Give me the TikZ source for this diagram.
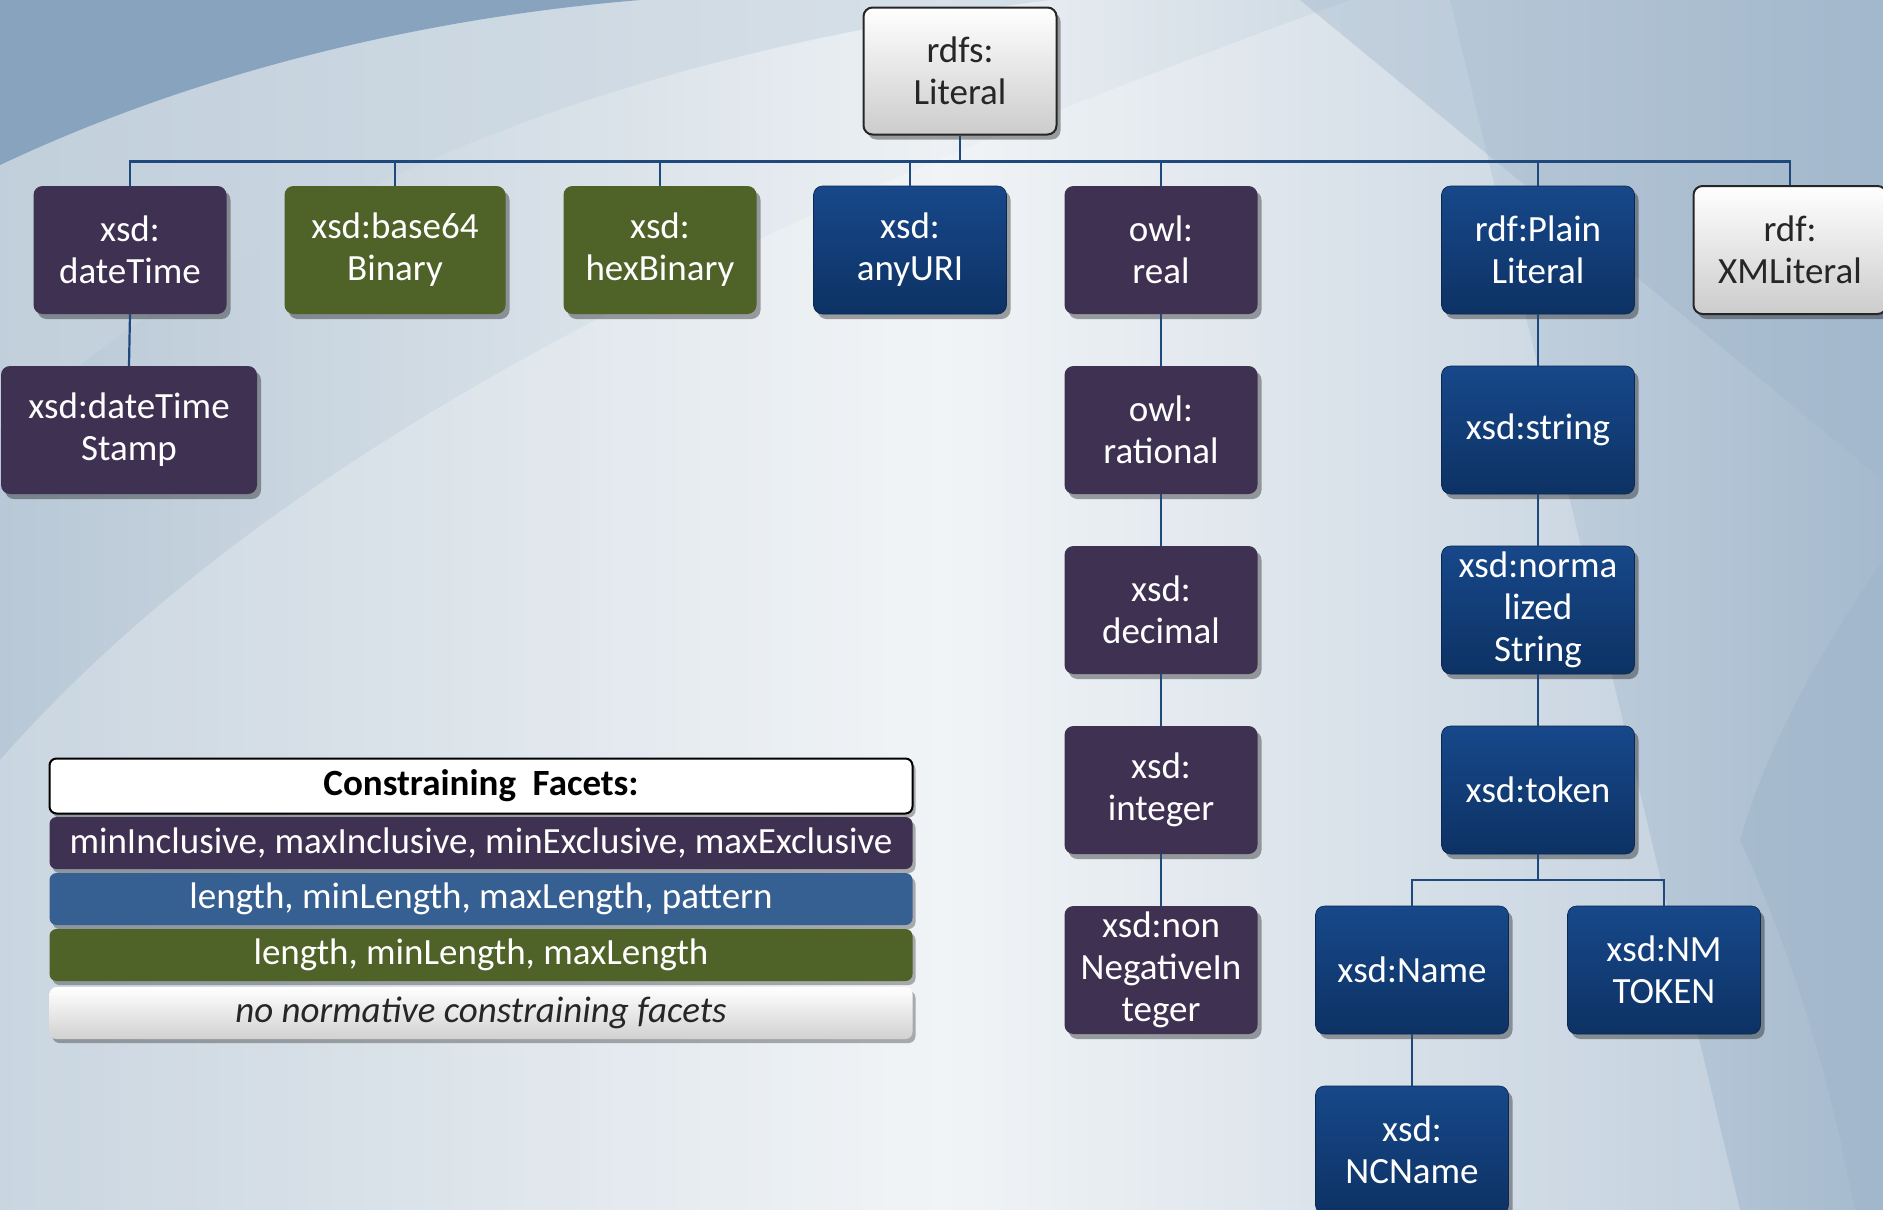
\documentclass[tikz,border=0pt]{standalone}
\usepackage{fontspec}
\setmainfont{Carlito}
\usetikzlibrary{shadows}
\definecolor{purp}{HTML}{3F3151}
\definecolor{olive}{HTML}{4F6228}
\definecolor{navyT}{HTML}{17488A}
\definecolor{navyB}{HTML}{0D3264}
\definecolor{legblue}{HTML}{376092}
\definecolor{conncol}{HTML}{1F497D}
\definecolor{bgLeft}{HTML}{B8C8D6}
\definecolor{bgMid}{HTML}{EDF1F4}
\definecolor{bgRight}{HTML}{A5BACE}
\definecolor{bgCorner}{HTML}{88A3BD}
\definecolor{bgBand}{HTML}{C8D5E0}
\definecolor{bgDark}{HTML}{9FB5CA}
\tikzset{
  box/.style={rounded corners=9pt, minimum width=193pt, minimum height=128pt, inner sep=0pt,
    align=center, text=white, font=\fontsize{37}{42}\selectfont,
    drop shadow={shadow xshift=4pt, shadow yshift=-5pt, opacity=0.35, fill=black}},
  purpbox/.style={box, fill=purp},
  olivebox/.style={box, fill=olive},
  bluebox/.style={box, top color=navyT, bottom color=navyB, draw=navyB!80!black, line width=0.6pt},
  greybox/.style={box, top color=white, bottom color=black!20, draw=black!85, line width=2pt, text=black!85},
  legrow/.style={rounded corners=7pt, minimum width=863pt, minimum height=52pt, inner sep=0pt,
    text=white, font=\fontsize{37}{42}\selectfont,
    drop shadow={shadow xshift=3pt, shadow yshift=-4pt, opacity=0.3, fill=black}},
  conn/.style={draw=conncol, line width=2.2pt},
}
\begin{document}
\begin{tikzpicture}[x=1pt, y=-1pt]
\useasboundingbox (0,0) rectangle (1883,1210);
\clip (0,0) rectangle (1883,1210);
% background
\shade[left color=bgLeft, right color=bgRight, middle color=bgMid] (0,0) rectangle (1883,1210);
\fill[bgBand, opacity=0.6] (0,0) -- (0,430) .. controls (300,170) and (650,50) .. (1050,0) -- cycle;
\fill[white, opacity=0.25] (0,1210) -- (0,760) .. controls (300,420) and (800,200) .. (1350,0) -- (1450,0) -- (1740,1210) -- cycle;
\fill[bgCorner] (0,0) -- (0,165) .. controls (180,80) and (400,20) .. (640,0) -- cycle;
\fill[bgDark, opacity=0.4] (1300,0) -- (1883,0) -- (1883,480) -- cycle;
\fill[bgDark, opacity=0.5] (1883,560) .. controls (1800,680) and (1760,770) .. (1740,840) .. controls (1795,960) and (1830,1080) .. (1855,1210) -- (1883,1210) -- cycle;

% nodes
\node[greybox, minimum height=127pt] (root) at (960,71) {rdfs:\\Literal};
\node[purpbox] (dt)    at (130,250)  {xsd:\\dateTime};
\node[olivebox, minimum width=221pt] (b64) at (395,250) {xsd:base64\\Binary};
\node[olivebox] (hex)  at (660,250)  {xsd:\\hexBinary};
\node[bluebox]  (uri)  at (910,250)  {xsd:\\anyURI};
\node[purpbox]  (real) at (1161,250) {owl:\\real};
\node[bluebox]  (plain) at (1538,250) {rdf:Plain\\Literal};
\node[greybox]  (xml)  at (1790,250) {rdf:\\XMLiteral};

\node[purpbox, minimum width=256pt] (dts) at (129,430) {xsd:dateTime\\Stamp};

\node[purpbox] (rat) at (1161,430) {owl:\\rational};
\node[purpbox] (dec) at (1161,610) {xsd:\\decimal};
\node[purpbox] (int) at (1161,790) {xsd:\\integer};
\node[purpbox] (nni) at (1161,970) {xsd:non\\NegativeIn\\teger};

\node[bluebox] (str) at (1538,430) {xsd:string};
\node[bluebox] (nstr) at (1538,610) {xsd:norma\\lized\\String};
\node[bluebox] (tok) at (1538,790) {xsd:token};
\node[bluebox] (name) at (1412,970) {xsd:Name};
\node[bluebox] (nmt) at (1664,970) {xsd:NM\\TOKEN};
\node[bluebox] (ncn) at (1412,1150) {xsd:\\NCName};

% connectors
\foreach \c in {dt,b64,hex,uri,real,plain,xml}
  \draw[conn] (root.south) -- ++(0,26) -| (\c.north);
\draw[conn] (dt.south) -- (dts.north);
\draw[conn] (real.south) -- (rat.north);
\draw[conn] (rat.south) -- (dec.north);
\draw[conn] (dec.south) -- (int.north);
\draw[conn] (int.south) -- (nni.north);
\draw[conn] (plain.south) -- (str.north);
\draw[conn] (str.south) -- (nstr.north);
\draw[conn] (nstr.south) -- (tok.north);
\foreach \c in {name,nmt}
  \draw[conn] (tok.south) -- ++(0,26) -| (\c.north);
\draw[conn] (name.south) -- (ncn.north);

% legend
\node[legrow, minimum height=55pt, fill=white, draw=black, line width=2pt, text=black, font=\fontsize{37}{42}\selectfont\bfseries] (lt) at (481,786) {Constraining\ \ Facets:};
\node[legrow, fill=purp] (lp) at (481,843) {minInclusive, maxInclusive, minExclusive, maxExclusive};
\node[legrow, fill=legblue] (lb) at (481,899) {length, minLength, maxLength, pattern};
\node[legrow, fill=olive] (lg) at (481,955) {length, minLength, maxLength};
\node[legrow, top color=white, bottom color=black!18, text=black!85, font=\fontsize{37}{42}\selectfont\itshape] (lw) at (481,1013) {no normative constraining facets};
\end{tikzpicture}
\end{document}
